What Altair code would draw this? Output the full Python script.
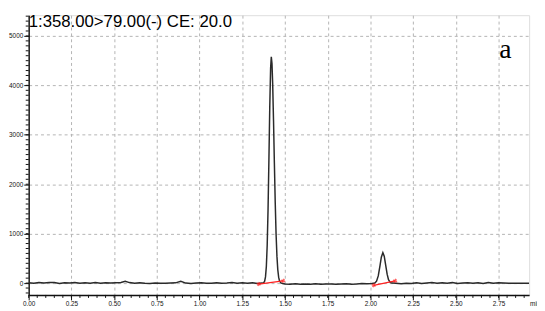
import altair as alt
import pandas as pd

# ---- chromatogram trace (time in min, intensity) ----
times = [
    0.00, 0.03, 0.06, 0.09, 0.12, 0.15, 0.18, 0.21, 0.24, 0.27, 0.30, 0.33, 0.36, 0.39,
    0.42, 0.45, 0.48, 0.51, 0.54, 0.565, 0.59, 0.62, 0.65, 0.68, 0.71, 0.74, 0.77, 0.80,
    0.83, 0.86, 0.89, 0.92, 0.95, 0.98, 1.01, 1.04, 1.07, 1.10, 1.13, 1.16, 1.19, 1.22,
    1.25, 1.28, 1.31, 1.34, 1.366, 1.376, 1.381, 1.386, 1.391, 1.396, 1.401, 1.406, 1.411,
    1.416, 1.42, 1.424, 1.428, 1.433, 1.438, 1.443, 1.448, 1.453, 1.458, 1.463, 1.468,
    1.476, 1.486, 1.50, 1.53, 1.56, 1.59, 1.62, 1.65, 1.68, 1.71, 1.74, 1.77, 1.80, 1.83,
    1.86, 1.89, 1.92, 1.95, 1.98, 2.01, 2.026, 2.036, 2.046, 2.056, 2.064, 2.073, 2.081,
    2.089, 2.098, 2.106, 2.116, 2.126, 2.15, 2.18, 2.21, 2.24, 2.27, 2.30, 2.33, 2.36,
    2.39, 2.42, 2.45, 2.48, 2.51, 2.54, 2.57, 2.60, 2.63, 2.66, 2.69, 2.72, 2.75, 2.78,
    2.81, 2.84, 2.87, 2.90, 2.93,
]
intensity = [
    5, -5, 10, 0, 12, 10, -8, 6, 0, 10, -5, 8, -3, 12,
    -2, 5, 0, 8, 12, 35, 10, -5, 5, -3, -8, 0, -5, -3,
    0, 5, 35, 0, -8, 0, 5, -5, -3, 8, -5, 0, 10, -3,
    5, -5, 8, -10, 0, 10, 40, 125, 335, 765, 1495, 2490, 3560,
    4350, 4580, 4440, 4040, 3290, 2430, 1630, 990, 545, 270, 120, 45,
    5, -10, -20, -25, -15, -25, -20, -22, -15, -25, -20, -18, -25, -20,
    -15, -22, -18, -10, -15, -10, 0, 40, 145, 350, 525, 615, 545,
    375, 180, 70, 15, 0, -5, -15, -5, -10, 5, -10, 0, 10,
    -5, 5, -5, 10, -8, 0, 8, -5, 5, -8, 10, -5, 5, 0,
    -5, -5, -3, -5, -5,
]

# ---- integration baselines (red) ----
base_t1 = [1.346, 2.019]
base_v1 = [-20, -45]
base_t2 = [1.490, 2.145]
base_v2 = [45, 45]

# ---- axes ----
x_ticks = [0.00, 0.25, 0.50, 0.75, 1.00, 1.25, 1.50, 1.75, 2.00, 2.25, 2.50, 2.75]
y_ticks = [0, 500, 1000, 1500, 2000, 2500, 3000, 3500, 4000, 4500, 5000]
x_minor = [round(i * 0.05, 2) for i in range(0, 59)]
y_minor = [v for v in range(-200, 5401, 100)]

title_text = "1:358.00>79.00(-) CE: 20.0"
panel_label = "a"

X_DOMAIN = [0, 2.929]
Y_DOMAIN = [-240, 5420]
W, H = 508, 284

trace = pd.DataFrame({"t": times, "v": intensity})
bases = pd.DataFrame({"t1": base_t1, "v1": base_v1, "t2": base_t2, "v2": base_v2})
ends = pd.DataFrame({"t": base_t1 + base_t2, "v": base_v1 + base_v2})
xm = pd.DataFrame({"t": x_minor})
ym = pd.DataFrame({"v": y_minor})
one = pd.DataFrame({"k": [0]})

xs = alt.Scale(domain=X_DOMAIN, nice=False, zero=False)
ys = alt.Scale(domain=Y_DOMAIN, nice=False, zero=False)

axis_common = dict(
    labelFont="Liberation Sans", labelFontSize=6.5, labelColor="#111",
    domainColor="#111", domainWidth=1.4, tickColor="#111", tickSize=5, tickWidth=1,
    grid=True, gridColor="#b4b4b4", gridDash=[3, 3], gridWidth=1,
    title=None, labelPadding=1, labelFlush=False, labelOverlap=False,
)

line = alt.Chart(trace).mark_line(color="#2a2a2a", strokeWidth=1.5, clip=True).encode(
    x=alt.X("t:Q", scale=xs, axis=alt.Axis(values=x_ticks, format=".2f", **axis_common)),
    y=alt.Y("v:Q", scale=ys, axis=alt.Axis(values=y_ticks, format="d", **axis_common)),
)

red = alt.Chart(bases).mark_rule(color="#ff2020", strokeWidth=1.3).encode(
    x=alt.X("t1:Q", scale=xs), y=alt.Y("v1:Q", scale=ys),
    x2="t2:Q", y2="v2:Q",
)
red_pts = alt.Chart(ends).mark_point(shape="cross", color="#ff2020", filled=True, size=18, angle=25).encode(
    x=alt.X("t:Q", scale=xs), y=alt.Y("v:Q", scale=ys),
)

xminor = alt.Chart(xm).mark_rule(color="#111", strokeWidth=1).encode(
    x=alt.X("t:Q", scale=xs), y=alt.value(H), y2=alt.value(H + 3),
)
yminor = alt.Chart(ym).mark_rule(color="#111", strokeWidth=1).encode(
    y=alt.Y("v:Q", scale=ys), x=alt.value(-3), x2=alt.value(0),
)

title = alt.Chart(one).mark_text(
    text=title_text, font="Liberation Sans", fontSize=17, align="left",
    baseline="alphabetic", color="#000",
).encode(x=alt.value(0), y=alt.value(12))

label = alt.Chart(one).mark_text(
    text=panel_label, font="Liberation Serif", fontSize=28, align="center",
    baseline="alphabetic", color="#000",
).encode(x=alt.value(484), y=alt.value(43))

unit = alt.Chart(one).mark_text(
    text="min", font="Liberation Sans", fontSize=6.5, align="left",
    baseline="top", color="#111",
).encode(x=alt.value(509), y=alt.value(H + 6))

chart = alt.layer(line, red, red_pts, xminor, yminor, title, label, unit).properties(
    width=W, height=H,
    padding={"left": 21, "top": 5, "right": 8, "bottom": 14},
    autosize=alt.AutoSizeParams(type="none"),
).configure_view(stroke=None).configure(background="white")

chart.save("out.html", embed_options={"renderer": "svg", "actions": False})
